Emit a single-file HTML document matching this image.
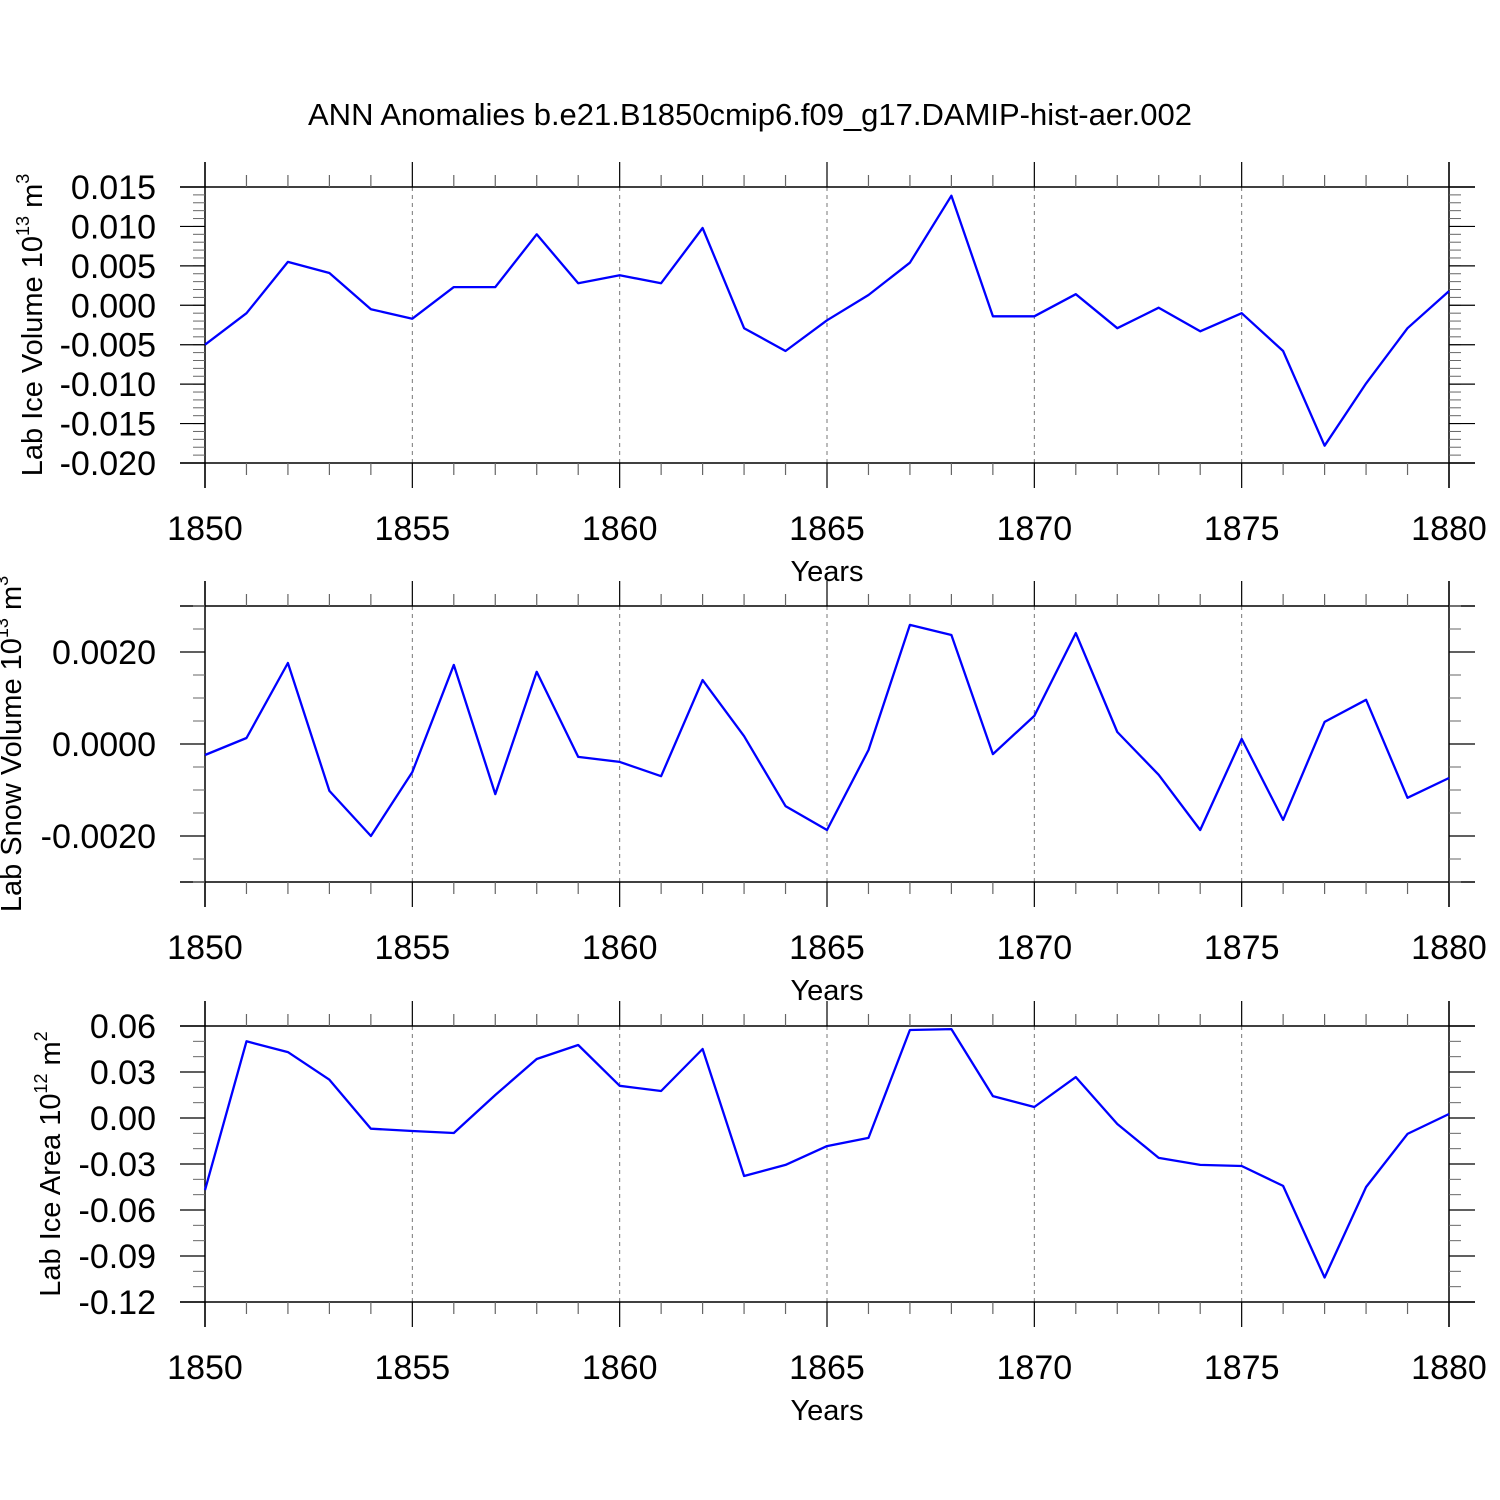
<!DOCTYPE html>
<html><head><meta charset="utf-8"><style>
html,body{margin:0;padding:0;background:#fff;}
svg{display:block;font-family:"Liberation Sans",sans-serif;}
</style></head><body>
<svg id="chart" width="1500" height="1500" viewBox="0 0 1500 1500" xmlns="http://www.w3.org/2000/svg">
<rect width="1500" height="1500" fill="#fff"/>
<text x="750" y="125" font-size="31" text-anchor="middle">ANN Anomalies b.e21.B1850cmip6.f09_g17.DAMIP-hist-aer.002</text>
</svg>
<script>
const years = [1850,1851,1852,1853,1854,1855,1856,1857,1858,1859,1860,1861,1862,1863,1864,1865,1866,1867,1868,1869,1870,1871,1872,1873,1874,1875,1876,1877,1878,1879,1880];
const iceVolume = [-0.005,-0.001,0.0055,0.0041,-0.0005,-0.0017,0.0023,0.0023,0.009,0.0028,0.0038,0.0028,0.0098,-0.0029,-0.0058,-0.0019,0.0013,0.0054,0.0139,-0.0014,-0.0014,0.0014,-0.0029,-0.0003,-0.0033,-0.001,-0.0058,-0.0178,-0.0099,-0.0029,0.0018];
const snowVolume = [-0.00024,0.00013,0.00176,-0.00102,-0.002,-0.00061,0.00172,-0.00109,0.00157,-0.00028,-0.00039,-0.0007,0.00139,0.00017,-0.00135,-0.00187,-0.00013,0.00259,0.00237,-0.00022,0.00061,0.00241,0.00026,-0.00067,-0.00187,0.00011,-0.00165,0.00048,0.00096,-0.00117,-0.00074];
const iceArea = [-0.047,0.05,0.043,0.025,-0.007,-0.0085,-0.0098,0.015,0.0385,0.0476,0.021,0.0176,0.045,-0.0378,-0.0306,-0.0183,-0.013,0.0574,0.058,0.0143,0.0072,0.0267,-0.0039,-0.026,-0.0306,-0.0313,-0.0443,-0.104,-0.045,-0.0104,0.0026];
const ticks1 = [0.015,0.010,0.005,0.000,-0.005,-0.010,-0.015,-0.020];
const tickLabels1 = ["0.015","0.010","0.005","0.000","-0.005","-0.010","-0.015","-0.020"];
const ticks2 = [0.002,0,-0.002];
const tickLabels2 = ["0.0020","0.0000","-0.0020"];
const ticks3 = [0.06,0.03,0,-0.03,-0.06,-0.09,-0.12];
const tickLabels3 = ["0.06","0.03","0.00","-0.03","-0.06","-0.09","-0.12"];
const xTicks = [1850,1855,1860,1865,1870,1875,1880];

const NS="http://www.w3.org/2000/svg";
const svg=document.getElementById('chart');
function el(tag,attrs,parent){const e=document.createElementNS(NS,tag);for(const k in attrs)e.setAttribute(k,attrs[k]);(parent||svg).appendChild(e);return e;}

const X0=205,X1=1449;
function xs(yr){return X0+(yr-1850)/30*(X1-X0);}

function panel(key,top,ymin,ymax,ticks,labels,minorStep,values,titleMain,titleExp,unitExp,titleX){
  const bot=top+276;
  const g=el('g',{});
  
  
  const ys=v=>bot-(v-ymin)/(ymax-ymin)*(bot-top);
  for(const t of xTicks){ if(t===1850||t===1880) continue;
    const l=el('line',{x1:xs(t),x2:xs(t),y1:top,y2:bot,stroke:'#777','stroke-width':1,'stroke-dasharray':'4,4'},g);
    
    
  }
  el('line',{x1:X0,x2:X0,y1:top-25,y2:bot+25,stroke:'#000','stroke-width':1.5},g);
  el('line',{x1:X1,x2:X1,y1:top-25,y2:bot+25,stroke:'#000','stroke-width':1.5},g);
  el('line',{x1:X0-25,x2:X1+26,y1:top,y2:top,stroke:'#000','stroke-width':1.5},g);
  el('line',{x1:X0-25,x2:X1+26,y1:bot,y2:bot,stroke:'#000','stroke-width':1.5},g);
  for(const yr of years){
    const major=(yr%5===0); const len=major?25:12; const x=xs(yr);
    el('line',{x1:x,x2:x,y1:top,y2:top-len,stroke:major?'#000':'#666','stroke-width':1.2},g);
    el('line',{x1:x,x2:x,y1:bot,y2:bot+len,stroke:major?'#000':'#666','stroke-width':1.2},g);
  }
  const nMin=Math.round((ymax-ymin)/minorStep);
  for(let i=0;i<=nMin;i++){const v=ymin+i*minorStep;const y=ys(v);
    el('line',{x1:X0,x2:X0-12,y1:y,y2:y,stroke:'#666','stroke-width':1},g);
    el('line',{x1:X1,x2:X1+12,y1:y,y2:y,stroke:'#666','stroke-width':1},g);
  }
  ticks.forEach((v,i)=>{const y=ys(v);
    el('line',{x1:X0,x2:X0-25,y1:y,y2:y,stroke:'#000','stroke-width':1.2},g);
    el('line',{x1:X1,x2:X1+26,y1:y,y2:y,stroke:'#000','stroke-width':1.2},g);
    const t=el('text',{x:156,y:y+12,'font-size':34,'text-anchor':'end'},g);
    t.textContent=labels[i];
    
    
  });
  xTicks.forEach(yr=>{
    const t=el('text',{x:xs(yr),y:bot+77,'font-size':34,'text-anchor':'middle'},g);
    t.textContent=String(yr);
    
    
  });
  const xt=el('text',{x:827,y:bot+118,'font-size':29,'text-anchor':'middle'},g);
  xt.textContent='Years';
  
  
  const cy=(top+bot)/2;
  const yt=el('text',{x:0,y:0,'font-size':29,'text-anchor':'middle',transform:`translate(${titleX},${cy}) rotate(-90)`},g);
  
  
  const s1=el('tspan',{},yt); s1.textContent=titleMain;
  const s2=el('tspan',{'font-size':18,dy:-13},yt); s2.textContent=titleExp;
  const s3=el('tspan',{dy:13},yt); s3.textContent=' m';
  const s4=el('tspan',{'font-size':18,dy:-13},yt); s4.textContent=unitExp;
  const pts=years.map((yr,i)=>xs(yr).toFixed(1)+','+ys(values[i]).toFixed(1)).join(' ');
  const pl=el('polyline',{points:pts,fill:'none',stroke:'#0000ff','stroke-width':2.3,'stroke-linejoin':'round'},g);
  
  
}
panel('ice-volume',187,-0.020,0.015,ticks1,tickLabels1,0.001,iceVolume,'Lab Ice Volume 10','13','3',42);
panel('snow-volume',606,-0.003,0.003,ticks2,tickLabels2,0.0005,snowVolume,'Lab Snow Volume 10','13','3',21);
panel('ice-area',1026,-0.12,0.06,ticks3,tickLabels3,0.01,iceArea,'Lab Ice Area 10','12','2',60);
</script>
</body></html>
